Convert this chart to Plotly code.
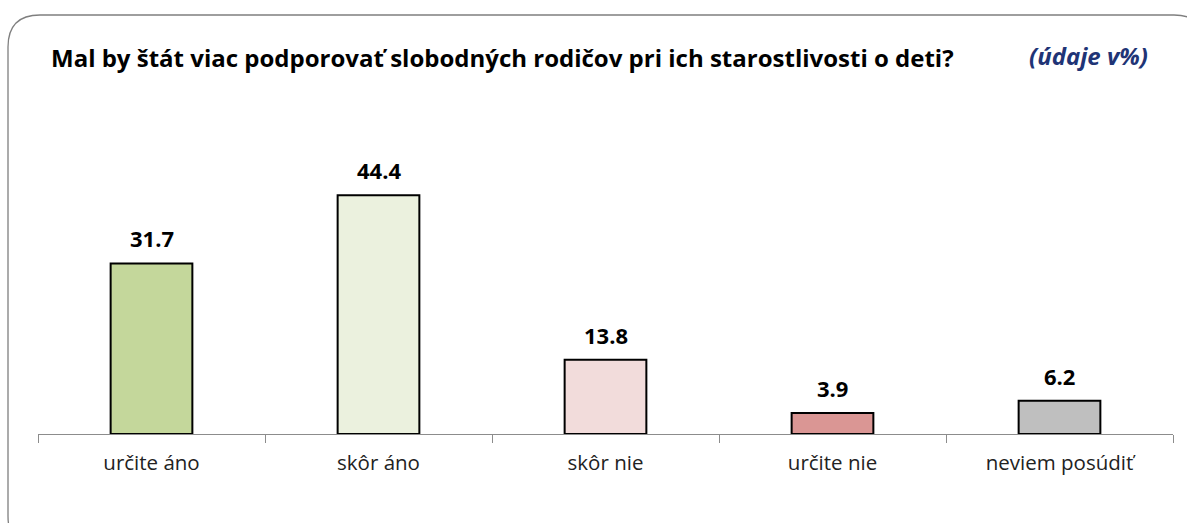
import plotly.graph_objects as go

categories = ["určite áno", "skôr áno", "skôr nie", "určite nie", "neviem posúdiť"]
values = [31.7, 44.4, 13.8, 3.9, 6.2]
colors = ["#C4D79B", "#EBF1DE", "#F2DCDB", "#DA9694", "#BFBFBF"]
title_text = "Mal by štát viac podporovať slobodných rodičov pri ich starostlivosti o deti?"
unit_text = "(údaje v%)"

FONT = "Open Sans, Lato, sans-serif"
W, H = 1187, 523
ML, MR, MT, MB = 38, 14, 165, 89
PW, PH = W - ML - MR, H - MT - MB

def px(x):
    return (x - ML) / PW

def py(y):
    return (H - MB - y) / PH

fig = go.Figure()
fig.add_trace(go.Bar(
    x=categories, y=values,
    marker=dict(color=colors, line=dict(color="#000000", width=2)),
    width=0.36,
    hoverinfo="skip",
))

for c, v in zip(categories, values):
    fig.add_annotation(x=c, y=v, text=f"<b>{v:.1f}</b>", showarrow=False,
                       yanchor="bottom", yshift=8,
                       font=dict(family=FONT, size=22, color="#000000"))

# rounded frame (right and bottom edges run past the picture)
x0, x1, y0, y1, r = 8, 1206, 15, 548, 32
path = (f"M {px(x0)},{py(y0 + r)} "
        f"Q {px(x0)},{py(y0)} {px(x0 + r)},{py(y0)} "
        f"L {px(x1 - r)},{py(y0)} "
        f"Q {px(x1)},{py(y0)} {px(x1)},{py(y0 + r)} "
        f"L {px(x1)},{py(y1 - r)} "
        f"Q {px(x1)},{py(y1)} {px(x1 - r)},{py(y1)} "
        f"L {px(x0 + r)},{py(y1)} "
        f"Q {px(x0)},{py(y1)} {px(x0)},{py(y1 - r)} Z")
fig.add_shape(type="path", path=path, xref="paper", yref="paper",
              line=dict(color="#7F7F7F", width=1.3), layer="below")

fig.add_annotation(x=px(49), y=py(58), xref="paper", yref="paper", xanchor="left", yanchor="middle",
                   text=f"<b>{title_text}</b>", showarrow=False,
                   font=dict(family=FONT, size=24, color="#000000"))
fig.add_annotation(x=px(1150), y=py(55), xref="paper", yref="paper", xanchor="right", yanchor="middle",
                   text=f"<b><i>{unit_text}</i></b>", showarrow=False,
                   font=dict(family=FONT, size=24, color="#1F3476"))

fig.update_layout(
    width=W, height=H,
    margin=dict(l=ML, r=MR, t=MT, b=MB),
    paper_bgcolor="#FFFFFF", plot_bgcolor="#FFFFFF",
    showlegend=False,
    xaxis=dict(showline=True, linecolor="#8C8C8C", linewidth=1.3,
               ticks="outside", tickson="boundaries", ticklen=8, tickcolor="#8C8C8C",
               tickfont=dict(family=FONT, size=20.5, color="#222222"),
               ticklabelstandoff=10, showgrid=False, fixedrange=True),
    yaxis=dict(range=[0, 50], visible=False, showgrid=False, fixedrange=True),
)

fig.write_html("out.html", config={"displayModeBar": False},
               post_script="document.body.style.margin='0';")
